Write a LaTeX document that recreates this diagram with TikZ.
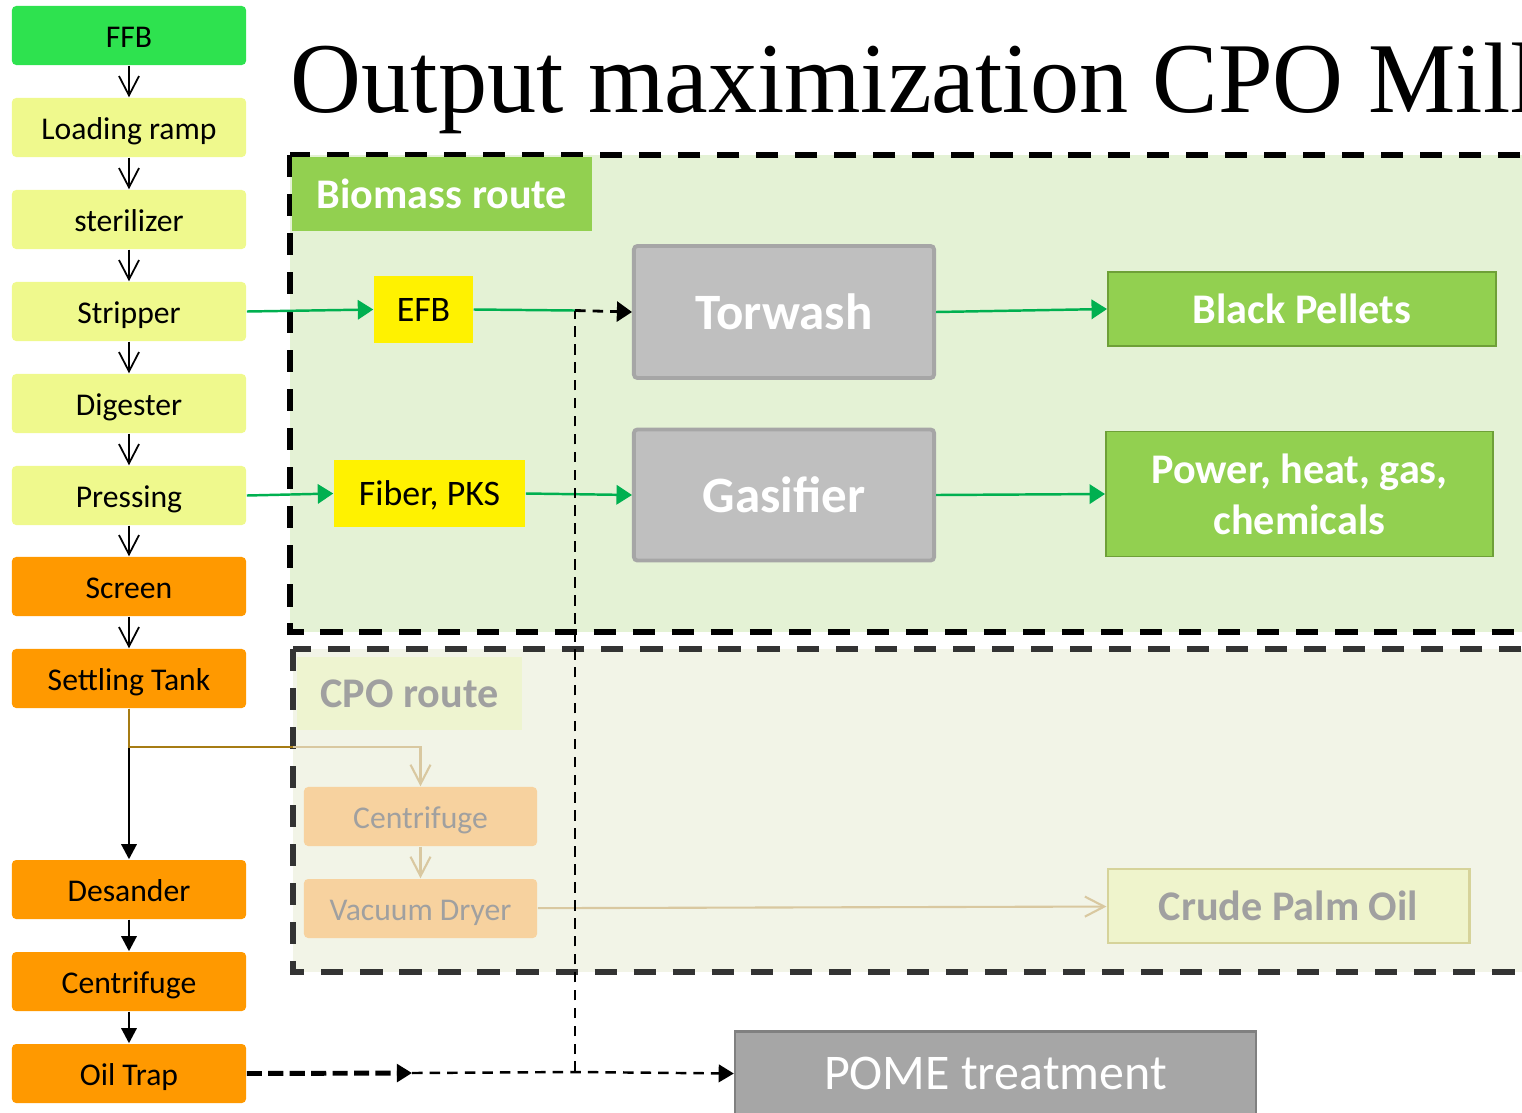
\documentclass[tikz,border=0pt]{standalone}
\usepackage{fontspec}
\setmainfont{Carlito}
\newfontfamily\titlefont{Liberation Serif}
\usetikzlibrary{arrows.meta}
\definecolor{ffb-green}{RGB}{46,226,79}
\definecolor{mill-lime}{RGB}{239,249,141}
\definecolor{mill-orange}{RGB}{255,153,0}
\definecolor{bio-bg}{RGB}{228,242,213}
\definecolor{cpo-bg}{RGB}{242,244,231}
\definecolor{leaf-green}{RGB}{146,208,80}
\definecolor{leaf-edge}{RGB}{110,160,55}
\definecolor{flow-green}{RGB}{0,176,80}
\definecolor{tor-gray}{RGB}{191,191,191}
\definecolor{tor-edge}{RGB}{166,166,166}
\definecolor{pome-gray}{RGB}{166,166,166}
\definecolor{pome-edge}{RGB}{128,128,128}
\definecolor{branch-gold}{RGB}{166,124,20}
\definecolor{pale-gold}{RGB}{217,200,160}
\definecolor{faded-orange}{RGB}{247,210,159}
\definecolor{faded-text}{RGB}{160,160,160}
\definecolor{faded-label}{RGB}{238,244,208}
\definecolor{faded-box}{RGB}{239,244,204}
\definecolor{faded-edge}{RGB}{214,211,154}

\begin{document}
\begin{tikzpicture}[x=0.01cm, y=-0.01cm,
    stage/.style={rectangle, rounded corners=1.2pt, minimum width=2.34cm, minimum height=0.59cm, inner sep=0pt, text height=0.87em, text depth=0.17em, font=\fontsize{9}{10}\selectfont},
    feed/.style={rectangle, fill=yellow, inner sep=0pt, minimum height=0.67cm, text height=0.85em, text depth=0.17em, font=\fontsize{10.2}{12}\selectfont},
    unit/.style={rectangle, rounded corners=1pt, fill=tor-gray, draw=tor-edge, line width=1.1pt, minimum width=3.0cm, minimum height=1.32cm, inner sep=0pt, text=white, font=\fontsize{14.5}{16}\selectfont\bfseries},
    product/.style={rectangle, fill=leaf-green, draw=leaf-edge, line width=0.5pt, inner sep=0pt, text=white, align=center, font=\fontsize{12}{14.5}\selectfont\bfseries},
    label/.style={rectangle, inner sep=0pt, font=\fontsize{12}{14}\selectfont\bfseries},
    stepline/.style={line width=0.5pt, -{Straight Barb[length=5.5pt, width=5.7pt]}},
    heavyline/.style={line width=0.8pt, -{Triangle[length=4.3pt, width=4.3pt]}},
    greenline/.style={flow-green, line width=0.7pt, -{Triangle[length=4.4pt, width=5.5pt]}},
    paleline/.style={pale-gold, line width=0.6pt, -{Straight Barb[length=5.5pt, width=5.7pt]}},
    routeframe/.style={line width=1.5pt, dash pattern=on 6.3pt off 4.8pt}]

\useasboundingbox (0,0) rectangle (1522,1112);
\clip (0,0) rectangle (1522,1112);

\node[anchor=base west, inner sep=0pt, xscale=0.98, font=\titlefont\fontsize{28.5}{30}\selectfont] (title) at (290,112) {Output maximization CPO Mill};

% route frames
\filldraw[fill=bio-bg, draw=black, routeframe] (290,155) rectangle (1560,632);
\filldraw[fill=cpo-bg, draw=black!80, routeframe] (293,649) rectangle (1560,972);

\node[label, fill=leaf-green, text=white, minimum width=3.0cm, minimum height=0.74cm] (biolabel) at (442,194) {Biomass route};
\node[label, fill=faded-label, text=faded-text, minimum width=2.25cm, minimum height=0.73cm] (cpolabel) at (409.5,693.5) {CPO route};

% mill line
\node[stage, fill=ffb-green] (ffb) at (129,35.5) {FFB};
\node[stage, fill=mill-lime] (ramp) at (129,127.5) {Loading ramp};
\node[stage, fill=mill-lime] (steril) at (129,219.5) {sterilizer};
\node[stage, fill=mill-lime] (strip) at (129,311.5) {Stripper};
\node[stage, fill=mill-lime] (digest) at (129,403.5) {Digester};
\node[stage, fill=mill-lime] (press) at (129,495.5) {Pressing};
\node[stage, fill=mill-orange] (screen) at (129,586.5) {Screen};
\node[stage, fill=mill-orange] (settle) at (129,678.5) {Settling Tank};
\node[stage, fill=mill-orange] (desand) at (129,889.5) {Desander};
\node[stage, fill=mill-orange] (centri) at (129,981.5) {Centrifuge};
\node[stage, fill=mill-orange] (oiltrap) at (129,1073.5) {Oil Trap};

\draw[stepline] (ffb) -- (ramp);
\draw[stepline] (ramp) -- (steril);
\draw[stepline] (steril) -- (strip);
\draw[stepline] (strip) -- (digest);
\draw[stepline] (digest) -- (press);
\draw[stepline] (press) -- (screen);
\draw[stepline] (screen) -- (settle);
\draw[heavyline] (settle) -- (desand);
\draw[heavyline] (desand) -- (centri);
\draw[heavyline] (centri) -- (oiltrap);

% biomass route
\node[feed, minimum width=0.99cm] (efb) at (423.5,309.5) {EFB};
\node[feed, minimum width=1.91cm] (fiber) at (429.5,493.5) {Fiber, PKS};
\node[unit, minimum height=1.32cm] (torwash) at (784,312) {Torwash};
\node[unit, minimum height=1.31cm] (gasifier) at (784,495) {Gasifier};
\node[product, minimum width=3.88cm, minimum height=0.74cm] (pellets) at (1302,309) {Black Pellets};
\node[product, minimum width=3.87cm, minimum height=1.25cm] (power) at (1299.5,494) {Power, heat, gas,\\chemicals};

\coordinate (jtop) at (575,310.5);
\coordinate (jbot) at (575,1072);
\coordinate (omid) at (412,1073);

\draw[greenline] (strip.east) -- (efb.west);
\draw[greenline] (press.east) -- (fiber.west);
\draw[flow-green, line width=0.7pt] (efb.east) -- (jtop);
\draw[greenline] (fiber.east) -- (gasifier.west);
\draw[greenline] (torwash.east) -- (pellets.west);
\draw[greenline] (gasifier.east) -- (power.west);

% CPO route
\node[stage, fill=faded-orange, text=faded-text, minimum width=2.33cm] (centri2) at (420.5,816.5) {Centrifuge};
\node[stage, fill=faded-orange, text=faded-text, minimum width=2.33cm] (vacuum) at (420.5,908.5) {Vacuum Dryer};
\node[label, fill=faded-box, draw=faded-edge, line width=0.8pt, text=faded-text, minimum width=3.61cm, minimum height=0.74cm] (cpo) at (1288.5,906) {Crude Palm Oil};

\coordinate (branch) at (293,747);
\draw[branch-gold, line width=0.6pt] (settle.south) |- (branch);
\draw[paleline] (branch) -| (centri2.north);
\draw[paleline] (centri2) -- (vacuum);
\draw[paleline] (vacuum) -- (cpo);

% effluent
\node[rectangle, fill=pome-gray, draw=pome-edge, line width=0.6pt, minimum width=5.21cm, minimum height=0.84cm, inner sep=0pt, text=white, font=\fontsize{14.2}{16}\selectfont] (pome) at (995.5,1073.5) {POME treatment};

\draw[line width=1.4pt, dash pattern=on 4.3pt off 1.8pt, -{Triangle[length=4.3pt, width=5pt]}] (oiltrap.east) -- (omid);
\draw[line width=0.7pt, dash pattern=on 3pt off 2pt, -{Triangle[length=4.3pt, width=5pt]}] (omid) -- (jbot) -- (pome.west);
\draw[line width=0.6pt, dash pattern=on 3pt off 2.1pt] (jbot) -- (jtop);
\draw[line width=0.8pt, dash pattern=on 3pt off 2pt, -{Triangle[length=4.3pt, width=5.7pt]}] (jtop) -- (torwash.west);
\end{tikzpicture}
\end{document}
